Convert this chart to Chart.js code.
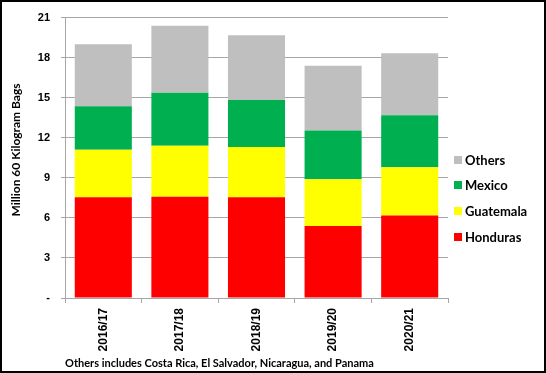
<!DOCTYPE html>
<html>
<head>
<meta charset="utf-8">
<script src="https://cdn.jsdelivr.net/npm/chart.js@4/dist/chart.umd.min.js"></script>
<style>
html,body{margin:0;padding:0;background:#fff;}
canvas{display:block;}
</style>
</head>
<body>
<canvas id="c" width="546" height="373"></canvas>
<script>
const categories = ['2016/17', '2017/18', '2018/19', '2019/20', '2020/21'];
const honduras  = [7.54, 7.59, 7.54, 5.40, 6.17];
const guatemala = [3.56, 3.81, 3.76, 3.49, 3.63];
const mexico    = [3.27, 3.98, 3.53, 3.66, 3.88];
const others    = [4.63, 5.01, 4.85, 4.84, 4.65];
const yTicks = [0, 3, 6, 9, 12, 15, 18, 21];
const seriesNames = ['Honduras', 'Guatemala', 'Mexico', 'Others'];
const seriesColors = ['#ff0000', '#ffff00', '#00b050', '#bfbfbf'];
const footnote = 'Others includes Costa Rica, El Salvador, Nicaragua, and Panama';
const yTitle = 'Million 60 Kilogram Bags';

const FONT = "'Liberation Sans', Arial, sans-serif";
const TEXT = "Lato, 'Liberation Sans', sans-serif";
const gridColor = '#a6a6a6';

const seriesData = [honduras, guatemala, mexico, others];

const legendAndBorder = {
  id: 'legendAndBorder',
  afterDraw(chart) {
    const ctx = chart.ctx;
    ctx.save();
    const rows = [160, 185, 211, 237];
    const ds = chart.data.datasets.slice().reverse();
    ctx.font = "bold 13px " + TEXT;
    ctx.textBaseline = 'middle';
    ctx.textAlign = 'left';
    ds.forEach((d, i) => {
      ctx.fillStyle = d.backgroundColor;
      ctx.fillRect(454, rows[i] - 4, 8, 8);
      ctx.fillStyle = '#000';
      ctx.fillText(d.label, 465, rows[i] + 0.5);
    });
    // y-axis title
    ctx.save();
    ctx.translate(16, 150);
    ctx.rotate(-Math.PI / 2);
    ctx.textAlign = 'center';
    ctx.font = "bold 12px " + TEXT;
    ctx.fillText(yTitle, 0, 0);
    ctx.restore();
    ctx.strokeStyle = '#000';
    ctx.lineWidth = 2;
    ctx.strokeRect(1, 1, 544, 371);
    ctx.restore();
  }
};

new Chart(document.getElementById('c'), {
  type: 'bar',
  data: {
    labels: categories,
    datasets: seriesData.map((arr, i) => ({
      label: seriesNames[i],
      data: arr,
      backgroundColor: seriesColors[i],
      borderWidth: 0,
      barPercentage: 0.745,
      categoryPercentage: 1.0
    }))
  },
  options: {
    responsive: false,
    animation: false,
    layout: { padding: { top: 13, right: 98, left: 0, bottom: 0 } },
    plugins: { legend: { display: false }, tooltip: { enabled: false } },
    scales: {
      x: {
        stacked: true,
        afterFit(scale) { scale.height = 75; },
        grid: { display: true, drawOnChartArea: false, drawTicks: true, tickLength: 5, color: gridColor, offset: true },
        border: { color: gridColor },
        ticks: { maxRotation: 90, minRotation: 90, padding: 5, color: '#000', font: { family: FONT, weight: 'bold', size: 12 } },
        title: { display: true, text: footnote, align: 'start', color: '#000', padding: { top: 0, bottom: 3 }, font: { family: TEXT, weight: 'bold', size: 11 } }
      },
      y: {
        stacked: true,
        min: 0, max: 21,
        afterFit(scale) { scale.width = 65; },
        afterBuildTicks(scale) { scale.ticks = yTicks.map(v => ({ value: v })); },
        grid: { color: gridColor, tickLength: 4, drawTicks: true },
        border: { color: gridColor },
        ticks: {
          padding: 11, color: '#000',
          font: { family: FONT, weight: 'bold', size: 11 },
          callback: v => v === 0 ? '-' : String(v)
        }
      }
    }
  },
  plugins: [legendAndBorder]
});
</script>
</body>
</html>
